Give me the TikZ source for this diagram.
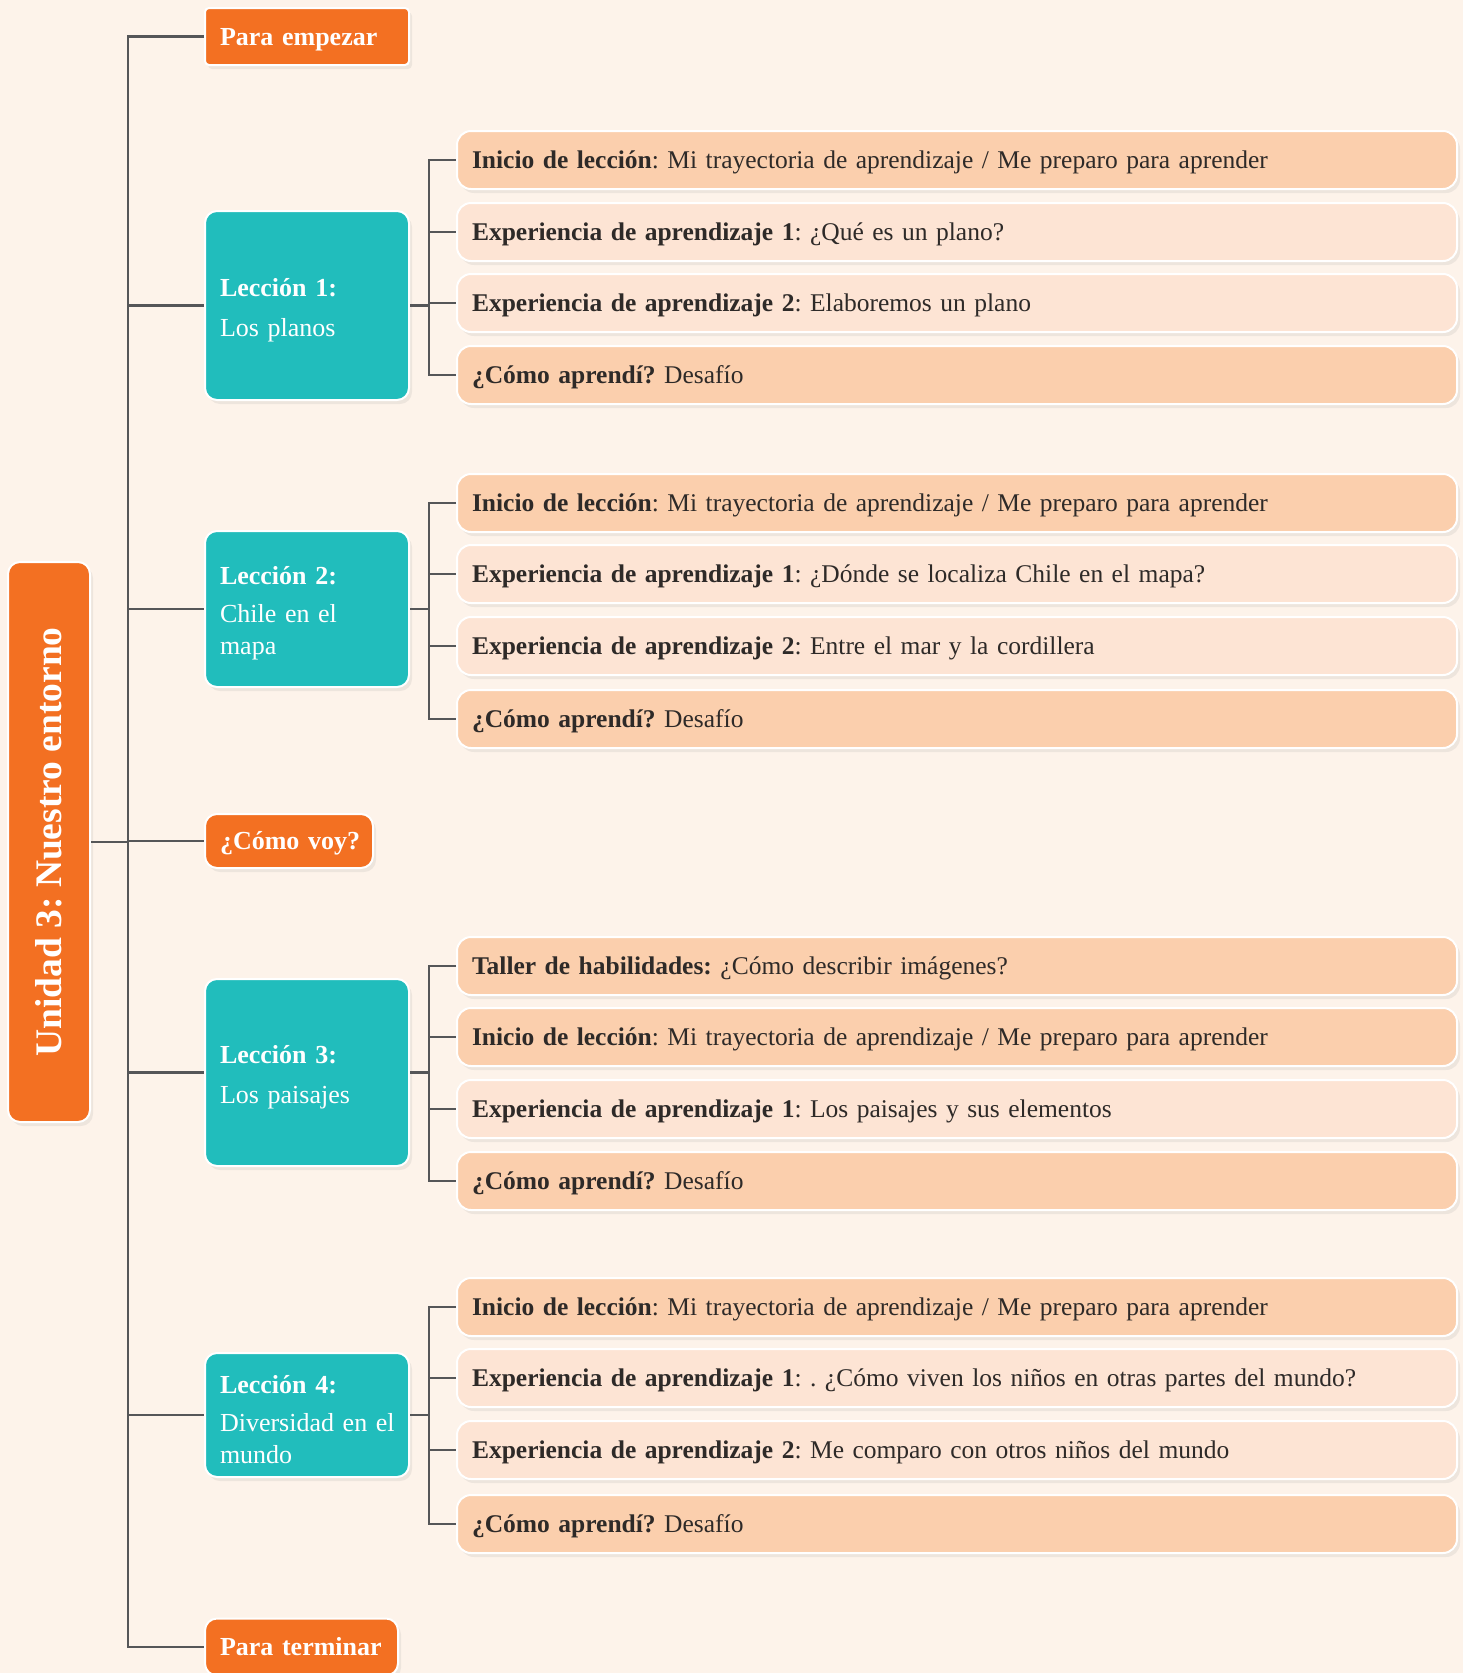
\documentclass[tikz,border=0pt]{standalone}
\usepackage{fontspec}
\setmainfont{Liberation Serif}
\usetikzlibrary{shadows}
\frenchspacing

\definecolor{fondo}{HTML}{FDF3EA}
\definecolor{naranja}{HTML}{F37022}
\definecolor{turquesa}{HTML}{21BDBC}
\definecolor{durazno}{HTML}{FBCFAD}
\definecolor{duraznoclaro}{HTML}{FDE4D4}
\definecolor{linea}{HTML}{555658}
\definecolor{texto}{HTML}{2E2A28}

\begin{document}
\begin{tikzpicture}[x=1pt, y=-1pt,
    caja/.style={draw=white, line width=2pt, rounded corners=12pt,
      drop shadow={opacity=0.12, shadow xshift=3pt, shadow yshift=-4pt}},
    etapa/.style={caja, fill=naranja, text=white, inner xsep=15pt, anchor=center,
      minimum height=57pt, text height=22pt, text depth=5pt,
      font=\bfseries\fontsize{26}{30}\selectfont},
    leccion/.style={caja, fill=turquesa, text=white, align=left, text width=174pt,
      inner xsep=15pt, execute at begin node={\rule{0pt}{27pt}},
      font=\fontsize{26}{32}\selectfont},
    item/.style={caja, rounded corners=14pt, text=texto, align=left, text width=970pt,
      inner xsep=15pt, minimum height=58pt, text height=21pt, text depth=4pt,
      font=\fontsize{25.5}{30}\selectfont},
    fuerte/.style={item, fill=durazno},
    suave/.style={item, fill=duraznoclaro},
    conector/.style={draw=linea, line width=2.8pt}]

    % Fondo
    \useasboundingbox (0, 0) rectangle (1463, 1673);
    \fill[fondo] (0, 0) rectangle (1463, 1673);

    % Ejes de las ramas
    \coordinate (eje) at (128, 0);
    \coordinate (rama) at (429, 0);

    % Unidad
    \node[caja, fill=naranja, text=white, rotate=90, minimum width=560pt, minimum height=82pt,
      font=\bfseries\fontsize{37.5}{44}\selectfont] (unidad) at (49, 842) {Unidad 3: Nuestro entorno};

    % Etapas
    \node[etapa, rounded corners=4pt, text width=174pt] (empezar) at (307, 36.5) {Para empezar};
    \node[etapa, minimum height=54pt, text width=138pt] (voy) at (289, 841) {\mbox{¿Cómo voy?}};
    \node[etapa, text width=163pt] (terminar) at (301.5, 1647) {Para terminar};

    % Lecciones
    \node[leccion, minimum height=189pt] (l1) at (307, 305.5) {\textbf{Lección 1:}\\[8pt]Los planos};
    \node[leccion, minimum height=156pt] (l2) at (307, 609) {\textbf{Lección 2:}\\[6pt]Chile en el\\mapa};
    \node[leccion, minimum height=187pt] (l3) at (307, 1072.5) {\textbf{Lección 3:}\\[8pt]Los paisajes};
    \node[leccion, minimum height=124pt] (l4) at (307, 1415) {\textbf{Lección 4:}\\[6pt]\mbox{Diversidad en el}\\mundo};

    % Lección 1
    \node[fuerte] (l1a) at (957, 160) {\textbf{Inicio de lección}: Mi trayectoria de aprendizaje / Me preparo para aprender};
    \node[suave] (l1b) at (957, 232) {\textbf{Experiencia de aprendizaje 1}: ¿Qué es un plano?};
    \node[suave] (l1c) at (957, 303) {\textbf{Experiencia de aprendizaje 2}: Elaboremos un plano};
    \node[fuerte] (l1d) at (957, 375) {\textbf{¿Cómo aprendí?} Desafío};

    % Lección 2
    \node[fuerte] (l2a) at (957, 503) {\textbf{Inicio de lección}: Mi trayectoria de aprendizaje / Me preparo para aprender};
    \node[suave] (l2b) at (957, 574) {\textbf{Experiencia de aprendizaje 1}: ¿Dónde se localiza Chile en el mapa?};
    \node[suave] (l2c) at (957, 646) {\textbf{Experiencia de aprendizaje 2}: Entre el mar y la cordillera};
    \node[fuerte] (l2d) at (957, 719) {\textbf{¿Cómo aprendí?} Desafío};

    % Lección 3
    \node[fuerte] (l3a) at (957, 966) {\textbf{Taller de habilidades:} ¿Cómo describir imágenes?};
    \node[fuerte] (l3b) at (957, 1037) {\textbf{Inicio de lección}: Mi trayectoria de aprendizaje / Me preparo para aprender};
    \node[suave] (l3c) at (957, 1109) {\textbf{Experiencia de aprendizaje 1}: Los paisajes y sus elementos};
    \node[fuerte] (l3d) at (957, 1181) {\textbf{¿Cómo aprendí?} Desafío};

    % Lección 4
    \node[fuerte] (l4a) at (957, 1307) {\textbf{Inicio de lección}: Mi trayectoria de aprendizaje / Me preparo para aprender};
    \node[suave] (l4b) at (957, 1378) {\textbf{Experiencia de aprendizaje 1}: . ¿Cómo viven los niños en otras partes del mundo?};
    \node[suave] (l4c) at (957, 1450) {\textbf{Experiencia de aprendizaje 2}: Me comparo con otros niños del mundo};
    \node[fuerte] (l4d) at (957, 1524) {\textbf{¿Cómo aprendí?} Desafío};

    % Líneas
    \draw[conector] (empezar.west) -- (empezar.west -| eje) -- (terminar.west -| eje) -- (terminar.west);
    \draw[conector] (unidad.south) -- (unidad.south -| eje);
    \draw[conector] (voy.west -| eje) -- (voy.west);
    \foreach \i in {1, ..., 4} {
      \draw[conector] (l\i.west -| eje) -- (l\i.west);
      \draw[conector] (l\i.east) -- (l\i.east -| rama);
      \draw[conector] (l\i a.west) -- (l\i a.west -| rama) -- (l\i d.west -| rama) -- (l\i d.west);
      \draw[conector] (l\i b.west -| rama) -- (l\i b.west);
      \draw[conector] (l\i c.west -| rama) -- (l\i c.west);
    }

  \end{tikzpicture}
\end{document}
